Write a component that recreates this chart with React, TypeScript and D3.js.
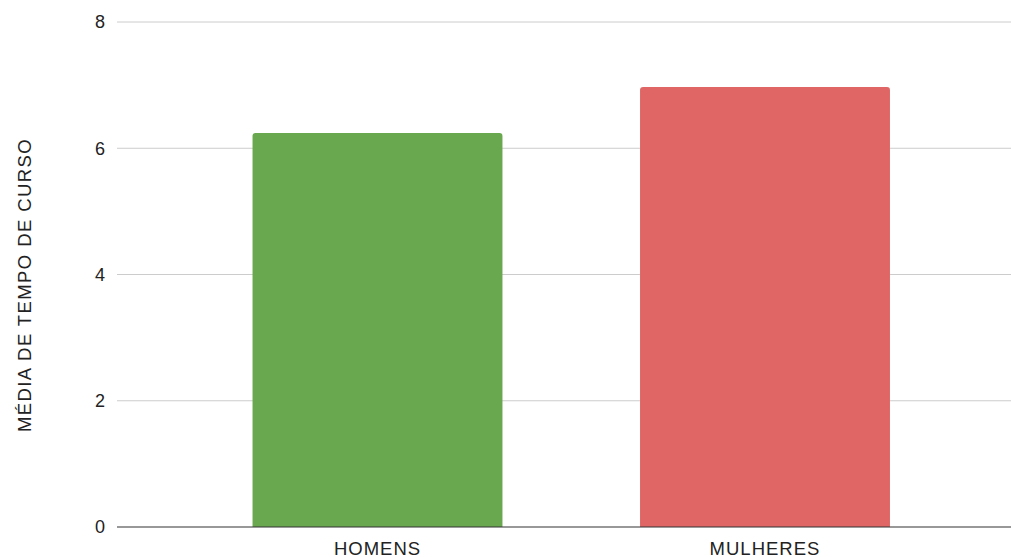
import React from "react";
import * as d3 from "d3";

const categories = ["HOMENS", "MULHERES"];
const values = [6.24, 6.97];
const colors = ["#6aa84f", "#e06666"];
const yTicks = [0, 2, 4, 6, 8];
const yTitle = "MÉDIA DE TEMPO DE CURSO";

const W = 1011;
const H = 557;

export default function App() {
  const y = d3.scaleLinear().domain([0, 8]).range([527, 22]);
  const x = d3
    .scaleBand<string>()
    .domain(categories)
    .range([183.75, 958.75])
    .paddingInner(0.355)
    .paddingOuter(0.1775);
  const r = 3;
  const barPath = (x0: number, w: number, top: number, bottom: number) =>
    `M${x0},${bottom}V${top + r}Q${x0},${top} ${x0 + r},${top}H${x0 + w - r}Q${x0 + w},${top} ${x0 + w},${top + r}V${bottom}Z`;
  const font = "'Liberation Sans', Arial, sans-serif";
  return (
    <svg
      width={W}
      height={H}
      style={{ position: "absolute", left: 0, top: 0, background: "#fff" }}
      fontFamily={font}
    >
      {yTicks.map((t) => (
        <g key={t}>
          {t !== 0 && (
            <line x1={117} x2={1011} y1={y(t)} y2={y(t)} stroke="#cccccc" strokeWidth={1} />
          )}
          <text x={105} y={y(t)} dy="0.35em" textAnchor="end" fontSize={18} fill="#222">
            {t}
          </text>
        </g>
      ))}
      {categories.map((c, i) => (
        <path
          key={c}
          d={barPath(x(c)!, x.bandwidth(), y(values[i]), y(0))}
          fill={colors[i]}
        />
      ))}
      <line x1={117} x2={1011} y1={y(0)} y2={y(0)} stroke="#333333" strokeWidth={1.2} />
      {categories.map((c) => (
        <text
          key={c}
          x={x(c)! + x.bandwidth() / 2}
          y={554.5}
          textAnchor="middle"
          fontSize={18.5}
          letterSpacing={1}
          fill="#222"
        >
          {c}
        </text>
      ))}
      <text
        transform={`translate(31, 285) rotate(-90)`}
        textAnchor="middle"
        fontSize={18.5}
        letterSpacing={1.4}
        fill="#222"
      >
        {yTitle}
      </text>
    </svg>
  );
}
